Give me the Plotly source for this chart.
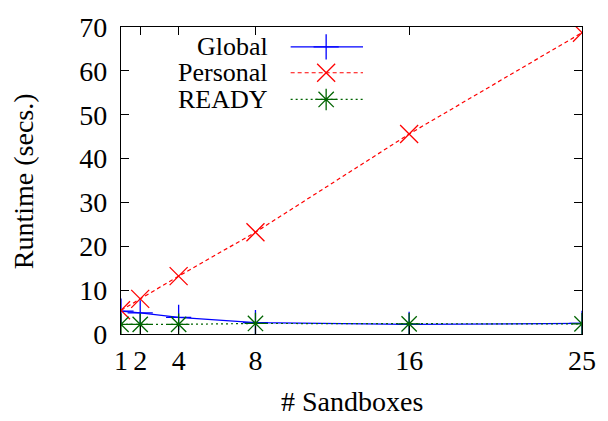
import plotly.graph_objects as go

sandboxes = [1, 2, 4, 8, 16, 25]
global_rt = [5.2, 4.8, 3.8, 2.6, 2.2, 2.4]
personal_rt = [5.4, 8.0, 13.2, 23.2, 45.6, 68.7]
ready_rt = [2.2, 2.2, 2.2, 2.4, 2.3, 2.3]
series_names = ["Global", "Personal", "READY"]
x_ticks = [1, 2, 4, 8, 16, 25]
y_ticks = [0, 10, 20, 30, 40, 50, 60, 70]

colors = ["#0000ff", "#ff0000", "#006400"]
dashes = ["solid", "4px,3px", "2px,3px"]
symbols = ["cross-thin", "x-thin", "asterisk"]
FONT = "'Liberation Serif', 'Times New Roman', 'DejaVu Serif', serif"

fig = go.Figure()
for name, vals, c, d, s in zip(series_names, [global_rt, personal_rt, ready_rt], colors, dashes, symbols):
    fig.add_trace(go.Scatter(
        x=sandboxes, y=vals, mode="lines+markers", name=name, showlegend=False,
        line=dict(color=c, width=1.2, dash=d),
        marker=dict(symbol=s, size=18, color=c, line=dict(color=c, width=1.3)),
    ))

# gnuplot-style legend drawn on an overlay axis (0..1 coordinates)
leg_y = [0.935, 0.851, 0.764]
for i, (name, c, d, s) in enumerate(zip(series_names, colors, dashes, symbols)):
    fig.add_trace(go.Scatter(
        x=[0.368, 0.525], y=[leg_y[i], leg_y[i]], mode="lines", xaxis="x2", yaxis="y2",
        showlegend=False, hoverinfo="skip", line=dict(color=c, width=1.2, dash=d)))
    fig.add_trace(go.Scatter(
        x=[0.445], y=[leg_y[i]], mode="markers", xaxis="x2", yaxis="y2",
        showlegend=False, hoverinfo="skip",
        marker=dict(symbol=s, size=18, color=c, line=dict(color=c, width=1.3))))
    fig.add_annotation(x=0.323, y=leg_y[i], xref="x2", yref="y2", text=name,
                       showarrow=False, xanchor="right", yanchor="middle",
                       font=dict(family=FONT, size=26, color="black"))

axis_common = dict(
    showline=True, linecolor="black", linewidth=1.3, mirror="allticks",
    ticks="inside", ticklen=8, tickcolor="black", tickwidth=1,
    showgrid=False, zeroline=False, ticklabeloverflow="allow",
    tickfont=dict(family=FONT, size=28, color="black"),
)

fig.add_annotation(x=-0.211, y=0.497, xref="paper", yref="paper", text="Runtime (secs.)",
                   textangle=-90, showarrow=False, xanchor="center", yanchor="middle",
                   font=dict(family=FONT, size=28, color="black"))
fig.add_annotation(x=0.5, y=-0.22, xref="paper", yref="paper", text="# Sandboxes",
                   showarrow=False, xanchor="center", yanchor="middle",
                   font=dict(family=FONT, size=28, color="black"))

fig.update_layout(
    width=608, height=421,
    margin=dict(l=121, r=22, t=12, b=87),
    paper_bgcolor="white", plot_bgcolor="white",
    font=dict(family=FONT),
    xaxis=dict(range=[1, 25], tickvals=x_ticks, ticktext=[str(v) for v in x_ticks],
               ticklabelstandoff=1, **axis_common),
    yaxis=dict(range=[0, 70], tickvals=y_ticks, ticklabelstandoff=7, **axis_common),
    xaxis2=dict(range=[0, 1], overlaying="x", visible=False, fixedrange=True),
    yaxis2=dict(range=[0, 1], overlaying="y", visible=False, fixedrange=True),
)

fig.write_html("out.html", config={"displayModeBar": False},
               post_script="document.body.style.margin='0';")
